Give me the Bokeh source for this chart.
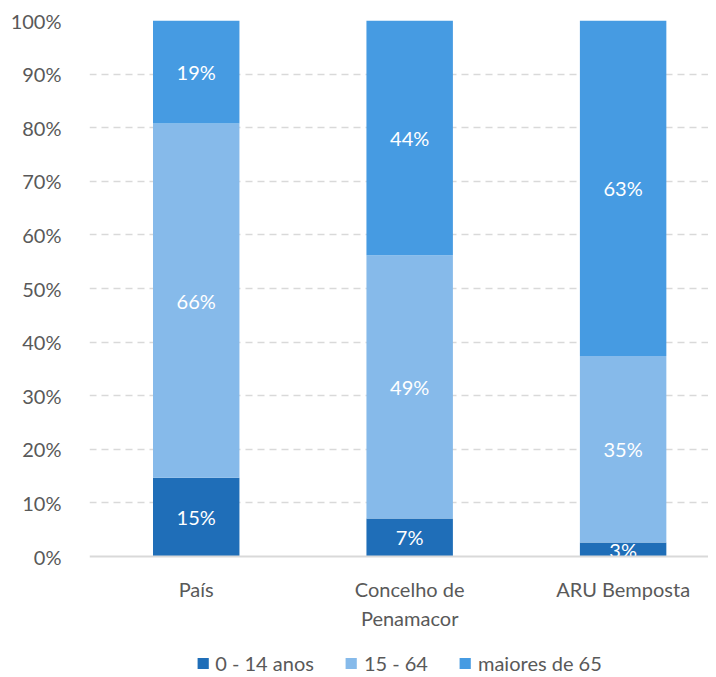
from bokeh.plotting import figure
from bokeh.models import ColumnDataSource, Range1d, FixedTicker, Legend, LegendItem, PrintfTickFormatter, Span
from bokeh.core.properties import value
from bokeh.embed import file_html
from bokeh.resources import INLINE

categories = ["País", "Concelho de Penamacor", "ARU Bemposta"]
tick_labels = ["País", "Concelho de\nPenamacor", "ARU Bemposta"]
series = ["0 - 14 anos", "15 - 64", "maiores de 65"]
age_0_14 = [14.7, 7.1, 2.6]
age_15_64 = [66.1, 49.1, 34.8]
age_65_plus = [19.2, 43.8, 62.6]
colors = ["#1F6EB8", "#86BAEA", "#469BE2"]
y_ticks = [0, 10, 20, 30, 40, 50, 60, 70, 80, 90, 100]

FONT = "Lato"
xs = list(range(len(categories)))
data = {"x": xs, "a": age_0_14, "b": age_15_64, "c": age_65_plus}
src = ColumnDataSource(data)

# frame extends below the 0% line to hold the category labels and legend
p = figure(frame_width=619, frame_height=655, output_backend="svg", toolbar_location=None,
           x_range=Range1d(-0.5, 2.4), y_range=Range1d(-22.2, 100),
           x_axis_location=None,
           min_border_left=89, min_border_top=20, min_border_right=0,
           min_border_bottom=0)
p.outline_line_color = None

rs = p.vbar_stack(["a", "b", "c"], x="x", width=0.405, source=src,
                  color=colors, line_color=None)

# segment value labels
lx, ly, lt = [], [], []
for i in xs:
    base = 0
    for vals in (age_0_14, age_15_64, age_65_plus):
        v = vals[i]
        lx.append(i)
        ly.append(base + v / 2)
        lt.append(f"{round(v)}%")
        base += v
p.text(x=lx, y=ly, text=lt, text_align="center", text_baseline="middle",
       text_color="white", text_font_size="20px", text_font=value(FONT))

# baseline (category axis line)
p.add_layout(Span(location=0, dimension="width", line_color="#D9D9D9", line_width=2))

# category labels
p.text(x=xs, y=[-3.9] * len(xs), text=tick_labels, text_align="center",
       text_baseline="top", text_color="#595959", text_font_size="20px",
       text_font=value(FONT), text_line_height=1.2)

# y axis
p.yaxis.ticker = FixedTicker(ticks=y_ticks)
p.yaxis.formatter = PrintfTickFormatter(format="%d%%")
p.yaxis.axis_line_color = None
p.yaxis.major_tick_line_color = None
p.yaxis.minor_tick_line_color = None
p.yaxis.major_label_text_font = FONT
p.yaxis.major_label_text_font_size = "20px"
p.yaxis.major_label_text_color = "#595959"
p.yaxis.major_label_standoff = 22

p.xgrid.grid_line_color = None
p.ygrid.ticker = FixedTicker(ticks=y_ticks[1:])
p.ygrid.grid_line_color = "#D9D9D9"
p.ygrid.grid_line_dash = "7 5"
p.ygrid.grid_line_width = 1.5

legend = Legend(items=[LegendItem(label=s, renderers=[r]) for s, r in zip(series, rs)],
                orientation="horizontal", location="bottom_center",
                label_text_font=FONT, label_text_font_size="20px",
                label_text_color="#595959", glyph_width=14, glyph_height=14,
                label_standoff=6, spacing=30, border_line_color=None,
                background_fill_alpha=0, padding=0, margin=0)
p.add_layout(legend, "center")

open("out.html", "w").write(file_html(p, INLINE))
